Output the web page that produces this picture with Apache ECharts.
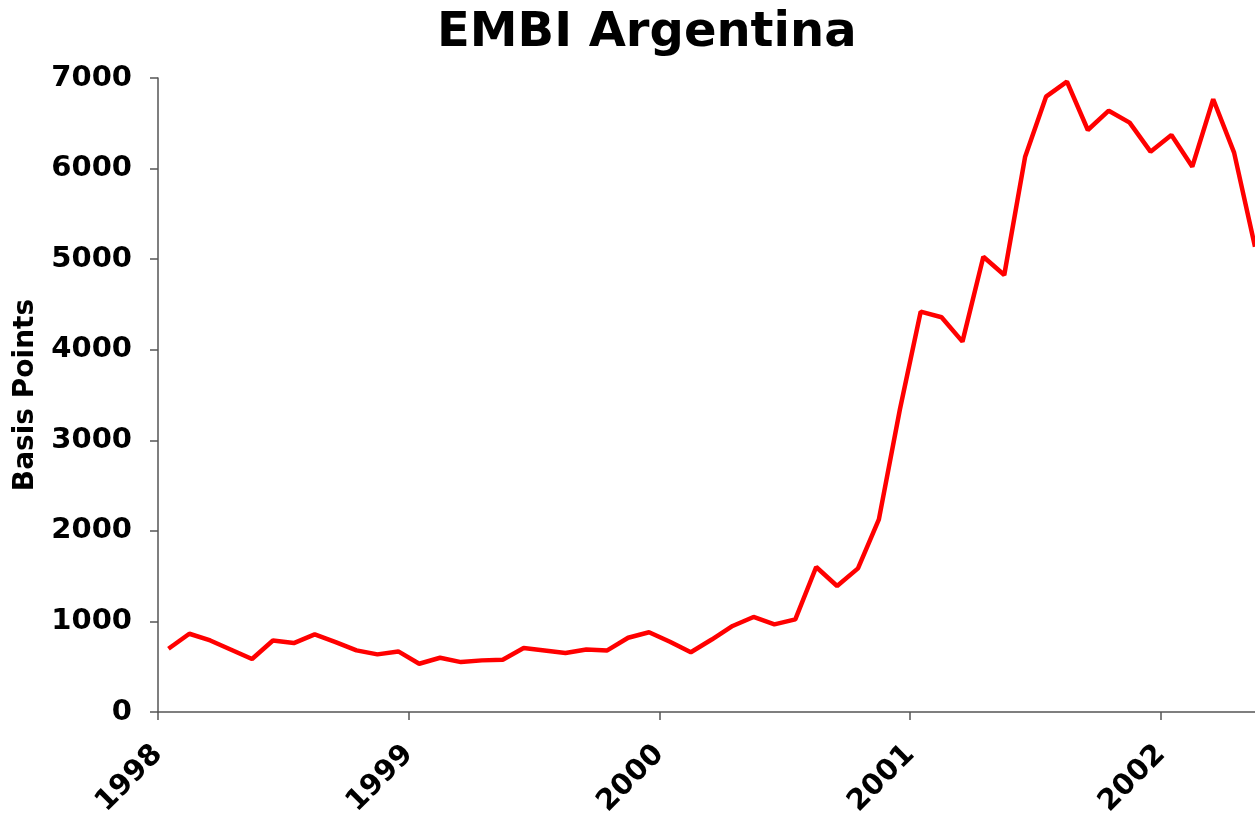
<!DOCTYPE html>
<html>
<head>
<meta charset="utf-8">
<script src="https://cdn.jsdelivr.net/npm/echarts@6/dist/echarts.min.js"></script>
<style>
html,body{margin:0;padding:0;background:#fff;}
#chart{width:1255px;height:815px;}
</style>
</head>
<body>
<div id="chart"></div>
<script>
// Monthly observations, Jan 1998 – May 2002
var months = ['1998-01','1998-02','1998-03','1998-04','1998-05','1998-06','1998-07','1998-08','1998-09','1998-10','1998-11','1998-12',
  '1999-01','1999-02','1999-03','1999-04','1999-05','1999-06','1999-07','1999-08','1999-09','1999-10','1999-11','1999-12',
  '2000-01','2000-02','2000-03','2000-04','2000-05','2000-06','2000-07','2000-08','2000-09','2000-10','2000-11','2000-12',
  '2001-01','2001-02','2001-03','2001-04','2001-05','2001-06','2001-07','2001-08','2001-09','2001-10','2001-11','2001-12',
  '2002-01','2002-02','2002-03','2002-04','2002-05'];
var embi = [698,864,790,688,585,790,761,857,772,680,636,669,
  533,599,551,570,577,706,680,651,691,680,820,880,
  775,660,800,950,1049,968,1023,1601,1391,1586,2127,3334,
  4420,4358,4089,5027,4825,6131,6794,6960,6426,6639,6507,6187,
  6371,6021,6765,6176,5138];
var yearLabels = ['1998','1999','2000','2001','2002'];
var yTicks = [0,1000,2000,3000,4000,5000,6000,7000];

var chart = echarts.init(document.getElementById('chart'));
var FONT = 'DejaVu Sans';
var seriesData = embi.map(function(v,i){ return [i + 0.5, v]; });

chart.setOption({
  animation: false,
  backgroundColor: '#ffffff',
  title: {
    text: 'EMBI Argentina',
    left: 432,
    top: 5,
    textStyle: {fontFamily: FONT, fontWeight: 'bold', fontSize: 48, color: '#000'}
  },
  grid: {left: 158, right: 0, top: 78, bottom: 103, containLabel: false, outerBoundsMode: 'none'},
  xAxis: {
    type: 'value',
    min: 0,
    max: months.length - 0.5,
    interval: 12,
    splitLine: {show: false},
    axisLine: {show: true, lineStyle: {color: '#555', width: 1.5}},
    axisTick: {show: true, length: 8, lineStyle: {color: '#555', width: 1.5}},
    axisLabel: {
      rotate: 45,
      margin: 38,
      showMaxLabel: false,
      fontFamily: FONT, fontWeight: 'bold', fontSize: 29, color: '#000',
      formatter: function(v){
        if (v % 12 !== 0) return '';
        return yearLabels[v / 12] || '';
      }
    }
  },
  yAxis: {
    type: 'value',
    min: 0,
    max: 7000,
    interval: 1000,
    name: 'Basis Points',
    nameLocation: 'middle',
    nameGap: 118,
    nameTextStyle: {fontFamily: FONT, fontWeight: 'bold', fontSize: 28, color: '#000'},
    splitLine: {show: false},
    axisLine: {show: true, lineStyle: {color: '#555', width: 1.5}},
    axisTick: {show: true, length: 8, lineStyle: {color: '#555', width: 1.5}},
    axisLabel: {
      margin: 26,
      fontFamily: FONT, fontWeight: 'bold', fontSize: 29, color: '#000',
      formatter: function(v){ return yTicks.indexOf(v) >= 0 ? String(v) : ''; }
    }
  },
  series: [{
    type: 'line',
    data: seriesData,
    showSymbol: false,
    symbol: 'none',
    lineStyle: {color: '#ff0000', width: 4.5},
    clip: false
  }]
});
</script>
</body>
</html>
